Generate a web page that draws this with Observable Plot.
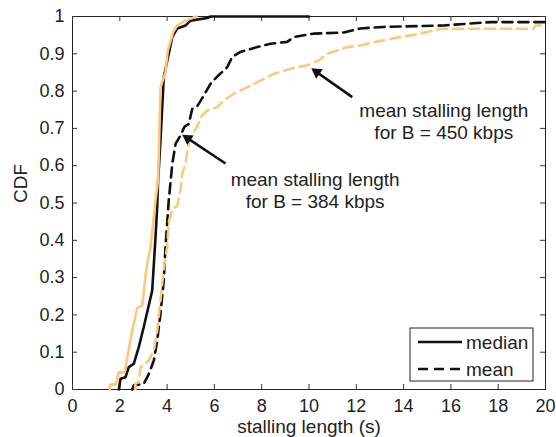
<!DOCTYPE html>
<html>
<head>
<meta charset="utf-8">
<script src="https://cdn.jsdelivr.net/npm/d3@7"></script>
<script src="https://cdn.jsdelivr.net/npm/@observablehq/plot@0.6"></script>
<style>
  html, body { margin: 0; padding: 0; background: #fff; }
  #chart { position: relative; width: 556px; height: 437px; }
</style>
</head>
<body>
<div id="chart"></div>
<script>
// ---- data ----
const xTicks = [0, 2, 4, 6, 8, 10, 12, 14, 16, 18, 20];
const yTicks = [0, 0.1, 0.2, 0.3, 0.4, 0.5, 0.6, 0.7, 0.8, 0.9, 1];

// median stalling length, B = 384 kbps (black solid)
const median384X = [1.96, 2.03, 2.24, 2.38, 2.59, 2.80, 3.01, 3.37, 3.51, 3.58, 3.62, 3.72, 3.86, 4.22, 4.43, 4.78, 4.99, 5.70, 5.84, 10.0];
const median384Y = [0, 0.029, 0.033, 0.06, 0.069, 0.113, 0.167, 0.265, 0.408, 0.489, 0.56, 0.668, 0.837, 0.945, 0.968, 0.976, 0.989, 0.996, 1, 1];

// median stalling length, B = 450 kbps (orange solid)
const median450X = [1.58, 1.58, 1.82, 1.96, 2.21, 2.49, 2.74, 2.95, 3.13, 3.30, 3.51, 3.62, 3.72, 3.93, 4.03, 4.26, 4.43, 4.78, 5.24];
const median450Y = [0, 0.013, 0.013, 0.046, 0.046, 0.147, 0.219, 0.225, 0.328, 0.381, 0.507, 0.56, 0.81, 0.85, 0.909, 0.958, 0.976, 0.989, 1.0];

// mean stalling length, B = 384 kbps (black dashed)
const mean384X = [2.52, 2.59, 3.01, 3.23, 3.44, 3.58, 3.72, 3.86, 3.93, 4.07, 4.22, 4.36, 4.57, 4.74, 4.92, 5.06, 5.27, 5.55, 5.84, 6.12, 6.54, 6.75, 7.10, 7.81, 8.37, 9.08, 9.36, 10.19, 11.47, 12.18, 13.15, 15.69, 17.67, 20];
const mean384Y = [0, 0.011, 0.015, 0.042, 0.078, 0.131, 0.203, 0.292, 0.381, 0.507, 0.605, 0.659, 0.681, 0.705, 0.712, 0.752, 0.759, 0.788, 0.82, 0.839, 0.864, 0.891, 0.905, 0.918, 0.927, 0.932, 0.945, 0.954, 0.957, 0.968, 0.972, 0.976, 0.985, 0.985];

// mean stalling length, B = 450 kbps (orange dashed)
const mean450X = [2.66, 2.66, 2.80, 2.88, 3.23, 3.44, 3.58, 3.72, 3.86, 4.00, 4.07, 4.22, 4.43, 4.57, 4.64, 4.78, 4.88, 4.99, 5.27, 5.48, 5.70, 6.12, 6.40, 6.82, 7.24, 7.95, 8.51, 9.22, 9.92, 10.41, 10.77, 11.62, 12.18, 12.74, 13.87, 14.71, 15.56, 19.5, 19.57, 20];
const mean450Y = [0, 0.015, 0.02, 0.06, 0.078, 0.105, 0.158, 0.239, 0.324, 0.381, 0.449, 0.483, 0.493, 0.535, 0.578, 0.605, 0.65, 0.676, 0.705, 0.735, 0.748, 0.757, 0.775, 0.793, 0.806, 0.828, 0.846, 0.86, 0.869, 0.882, 0.9, 0.918, 0.922, 0.931, 0.945, 0.954, 0.967, 0.967, 0.976, 0.976];

// annotations
const noteText = ["mean stalling length\nfor B = 384 kbps", "mean stalling length\nfor B = 450 kbps"];
const noteX = [10.26, 15.70];
const noteY = [0.534, 0.719];
const arrowFromX = [6.47, 11.83];
const arrowFromY = [0.606, 0.784];
const arrowToX = [4.57, 10.03];
const arrowToY = [0.686, 0.864];

const legendLabels = ["median", "mean"];
const xLabel = "stalling length (s)";
const yLabel = "CDF";

// ---- build tables ----
const BLACK = "#111111";
const ORANGE = "#fdc77e";
const FONT = "'Liberation Sans', Arial, Helvetica, sans-serif";
const toRows = (xs, ys) => xs.map((x, i) => ({x, y: ys[i]}));
const series = [
  {rows: toRows(median384X, median384Y), color: BLACK, dash: null},
  {rows: toRows(median450X, median450Y), color: ORANGE, dash: null},
  {rows: toRows(mean384X, mean384Y), color: BLACK, dash: "10,6"},
  {rows: toRows(mean450X, mean450Y), color: ORANGE, dash: "10,6"}
];
const notes = noteText.map((t, i) => ({t, x: noteX[i], y: noteY[i]}));

const W = 556, H = 437, ML = 72, MR = 11, MT = 16, MB = 48;
const FW = W - ML - MR, FH = H - MT - MB;
const TICK = 5;
const kx = FW / 20, ky = FH / 1;   // px per data unit (layout)
const HEAD_R = 5.5;                 // size of filled arrow head
const headOffset = 2 * Math.sqrt(HEAD_R * HEAD_R * Math.PI / (3 * Math.sqrt(3))); // tip-to-centroid distance

const arrows = arrowFromX.map((_, i) => {
  const x1 = arrowFromX[i], y1 = arrowFromY[i], x2 = arrowToX[i], y2 = arrowToY[i];
  const dxp = (x2 - x1) * kx, dyp = -(y2 - y1) * ky;
  const len = Math.hypot(dxp, dyp), ux = dxp / len, uy = dyp / len;
  return {
    x1, y1, x2, y2,
    hx: x2 - ux * headOffset / kx,
    hy: y2 + uy * headOffset / ky,
    angle: Math.atan2(dxp, -dyp) * 180 / Math.PI
  };
});

const plot = Plot.plot({
  width: W,
  height: H,
  marginLeft: ML,
  marginRight: MR,
  marginTop: MT,
  marginBottom: MB,
  x: {domain: [0, 20]},
  y: {domain: [0, 1]},
  style: {fontFamily: FONT, fontSize: "18px", color: "#222", background: "#fff"},
  marks: [
    Plot.frame({stroke: "#222", strokeWidth: 1}),
    // inward ticks on all four sides
    Plot.tickX(xTicks, {x: d => d, insetTop: FH - TICK, stroke: "#333"}),
    Plot.tickX(xTicks, {x: d => d, insetBottom: FH - TICK, stroke: "#333"}),
    Plot.tickY(yTicks, {y: d => d, insetRight: FW - TICK, stroke: "#333"}),
    Plot.tickY(yTicks, {y: d => d, insetLeft: FW - TICK, stroke: "#333"}),
    Plot.axisX(xTicks, {tickSize: 0, tickPadding: 10, fontSize: 18, label: null, tickFormat: d => String(d)}),
    Plot.axisY(yTicks, {tickSize: 0, tickPadding: 8, fontSize: 18, label: null, tickFormat: d => String(d)}),
    ...series.map(s => Plot.line(s.rows, {x: "x", y: "y", stroke: s.color, strokeWidth: 2.6, strokeDasharray: s.dash, strokeLinejoin: "miter"})),
    Plot.link(arrows, {x1: "x1", y1: "y1", x2: "hx", y2: "hy", stroke: BLACK, strokeWidth: 2.6}),
    Plot.dot(arrows, {x: "hx", y: "hy", symbol: "triangle2", r: HEAD_R, fill: BLACK, stroke: "none", rotate: "angle"}),
    Plot.text(notes, {x: "x", y: "y", text: "t", fontSize: 19, lineHeight: 1.12, textAnchor: "middle", lineAnchor: "middle", fill: "#222"}),
    Plot.text([xLabel], {frameAnchor: "bottom", dy: 30, lineAnchor: "top", fontSize: 19, fill: "#222"}),
    Plot.text([yLabel], {frameAnchor: "left", dx: -52, rotate: -90, fontSize: 19, fill: "#222"})
  ]
});

document.getElementById("chart").appendChild(plot);

// legend box (inside the plot, lower right)
const svg = d3.select(plot);
const lg = svg.append("g").attr("transform", "translate(410,328)");
lg.append("rect").attr("width", 123).attr("height", 53).attr("fill", "#fff").attr("stroke", "#222").attr("stroke-width", 1);
legendLabels.forEach((lab, i) => {
  const yy = 14 + i * 27;
  lg.append("line").attr("x1", 8).attr("x2", 52).attr("y1", yy).attr("y2", yy)
    .attr("stroke", BLACK).attr("stroke-width", 2.6)
    .attr("stroke-dasharray", i === 1 ? "10,6" : null);
  lg.append("text").attr("x", 56).attr("y", yy).attr("dy", "0.35em")
    .attr("text-anchor", "start")
    .attr("font-size", 19).attr("fill", "#222")
    .attr("font-family", FONT)
    .text(lab);
});
</script>
</body>
</html>
